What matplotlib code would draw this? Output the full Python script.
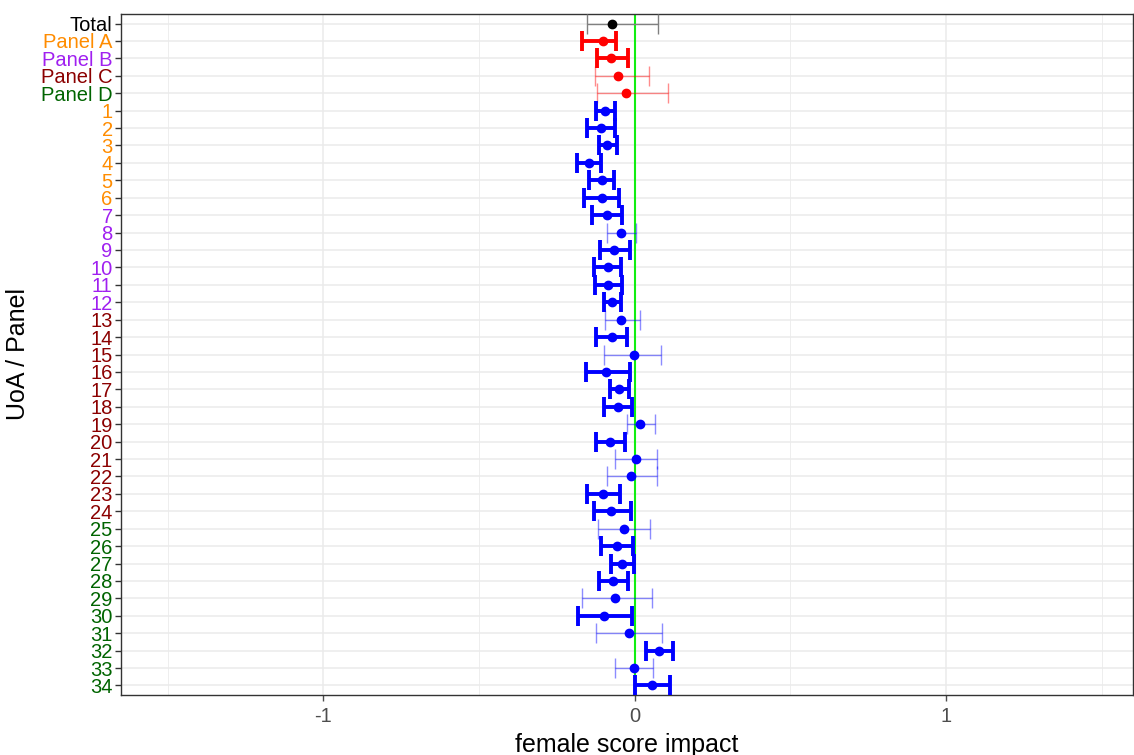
import matplotlib
matplotlib.use("Agg")
import matplotlib.pyplot as plt
import numpy as np

plt.rcParams['font.family'] = ['Liberation Sans', 'DejaVu Sans']

labels = ["Total", "Panel A", "Panel B", "Panel C", "Panel D"] + [str(i) for i in range(1, 35)]
est = [-0.074, -0.102, -0.076, -0.054, -0.028,
       -0.096, -0.108, -0.090, -0.147, -0.106, -0.106, -0.089, -0.045, -0.068, -0.087,
       -0.085, -0.074, -0.043, -0.074, -0.003, -0.092, -0.051, -0.054, 0.017, -0.079,
       0.003, -0.011, -0.102, -0.076, -0.034, -0.056, -0.041, -0.070, -0.064, -0.099,
       -0.020, 0.077, -0.003, 0.056]
lo = [-0.152, -0.171, -0.120, -0.128, -0.121,
      -0.123, -0.152, -0.116, -0.184, -0.146, -0.163, -0.136, -0.090, -0.113, -0.130,
      -0.128, -0.099, -0.097, -0.123, -0.100, -0.158, -0.078, -0.100, -0.026, -0.123,
      -0.063, -0.088, -0.155, -0.131, -0.118, -0.109, -0.076, -0.115, -0.169, -0.183,
      -0.124, 0.035, -0.062, 0.001]
hi = [0.075, -0.060, -0.022, 0.045, 0.106,
      -0.064, -0.064, -0.058, -0.107, -0.066, -0.050, -0.042, 0.005, -0.015, -0.045,
      -0.041, -0.045, 0.016, -0.025, 0.083, -0.016, -0.019, -0.010, 0.065, -0.030,
      0.070, 0.070, -0.046, -0.011, 0.050, -0.006, -0.001, -0.022, 0.056, -0.010,
      0.088, 0.124, 0.059, 0.113]
label_colors = (["black", "#FF8C00", "#A020F0", "#8B0000", "#006400"]
                + ["#FF8C00"] * 6 + ["#A020F0"] * 6 + ["#8B0000"] * 12 + ["#006400"] * 10)

fig = plt.figure(figsize=(11.34, 7.55), dpi=100)
ax = fig.add_axes([121 / 1134, 1 - 695 / 755, (1133 - 121) / 1134, (695 - 14) / 755])

n = len(labels)
ypos = np.arange(n)
for i in range(n):
    sig = hi[i] < 0 or lo[i] > 0
    if i == 0:
        pcol, bcol, alpha = "black", "#808080", 1.0
    elif i < 5:
        pcol, bcol = "red", "red"
        alpha = 1.0 if sig else 0.45
    else:
        pcol, bcol = "blue", "blue"
        alpha = 1.0 if sig else 0.45
    lw = 2.8 if sig else 1.0
    ax.errorbar([est[i]], [ypos[i]], xerr=[[est[i] - lo[i]], [hi[i] - est[i]]],
                fmt="none", ecolor=bcol, elinewidth=lw, capsize=7, capthick=lw,
                alpha=alpha, zorder=3)
    ax.plot([est[i]], [ypos[i]], "o", color=pcol, markersize=6, zorder=4)

ax.axvline(0, color="#11ee11", lw=1.5, zorder=2)

ax.set_xlim(-1.65, 1.6)
ax.set_ylim(n - 1 + 0.55, -0.55)
ax.set_yticks(ypos)
ax.set_yticklabels(labels)
for t, c in zip(ax.get_yticklabels(), label_colors):
    t.set_color(c)
ax.set_xticks([-1, 0, 1])
ax.set_xticklabels(["-1", "0", "1"])
ax.set_xticks([-1.5, -0.5, 0.5, 1.5], minor=True)
ax.tick_params(axis="both", which="major", labelsize=14.5, length=4, color="#333333", width=1)
ax.tick_params(axis="x", colors="#4d4d4d", labelsize=14.5, pad=5)
ax.tick_params(axis="x", which="minor", length=0)
ax.tick_params(axis="y", pad=2)

ax.grid(True, which="major", color="#EBEBEB", lw=1.1, zorder=0)
ax.grid(True, which="minor", axis="x", color="#EBEBEB", lw=0.6, zorder=0)
ax.set_axisbelow(True)
for s in ax.spines.values():
    s.set_color("#333333")
    s.set_linewidth(1.0)

ax.set_xlabel("female score impact", fontsize=18, labelpad=5)
ax.set_ylabel("UoA / Panel", fontsize=18, labelpad=8)

fig.savefig("out.png", dpi=100)
